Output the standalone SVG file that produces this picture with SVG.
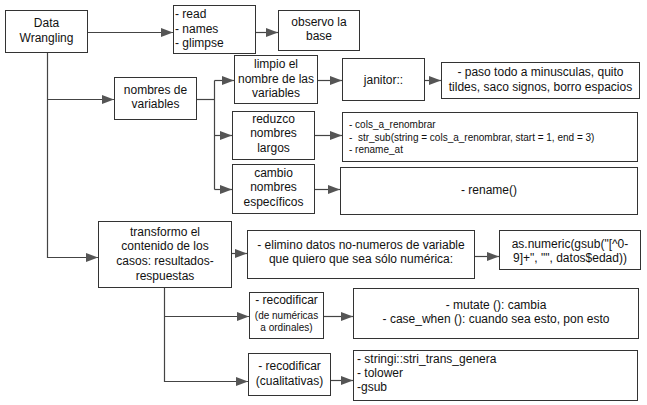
<svg xmlns="http://www.w3.org/2000/svg" width="647" height="405" viewBox="0 0 647 405">
<style>
.b{fill:#fff;stroke:#333;stroke-width:1}
.t{font-family:"Liberation Sans",Arial,sans-serif;font-size:12px;fill:#111}
.c{text-anchor:middle}
.s{font-size:10px}
.k{fill:none;stroke:#444;stroke-width:1.2}
</style>
<defs>
<marker id="a" markerUnits="userSpaceOnUse" markerWidth="12" markerHeight="9" refX="12" refY="4.5" orient="auto">
<path d="M0,0 L12,4.5 L0,9 z" fill="#555"/>
</marker>
</defs>
<rect width="647" height="405" fill="#fff"/>
<g id="connectors">
<path class="k" d="M87,32.5 H173" marker-end="url(#a)"/>
<path class="k" d="M255,32.5 H278" marker-end="url(#a)"/>
<path class="k" d="M47.5,52 V257.5 H98" marker-end="url(#a)"/>
<path class="k" d="M47.5,99.5 H114" marker-end="url(#a)"/>
<path class="k" d="M196,99.5 H214.5"/>
<path class="k" d="M214.5,80.5 V189.5"/>
<path class="k" d="M214.5,80.5 H234" marker-end="url(#a)"/>
<path class="k" d="M214.5,135.5 H232" marker-end="url(#a)"/>
<path class="k" d="M214.5,189.5 H232" marker-end="url(#a)"/>
<path class="k" d="M317,80.5 H342" marker-end="url(#a)"/>
<path class="k" d="M424,80.5 H441" marker-end="url(#a)"/>
<path class="k" d="M314,135.5 H342" marker-end="url(#a)"/>
<path class="k" d="M314,189.5 H340" marker-end="url(#a)"/>
<path class="k" d="M231,253.5 H247" marker-end="url(#a)"/>
<path class="k" d="M474,256.5 H499" marker-end="url(#a)"/>
<path class="k" d="M164.5,287 V381.5 H248" marker-end="url(#a)"/>
<path class="k" d="M164.5,316.5 H249" marker-end="url(#a)"/>
<path class="k" d="M323,316.5 H353" marker-end="url(#a)"/>
<path class="k" d="M330,380.5 H353" marker-end="url(#a)"/>
</g>
<g id="data-wrangling">
<rect class="b" x="5.5" y="10.5" width="82" height="42"/>
<text class="t c" x="46.5" y="27">Data</text>
<text class="t c" x="46.5" y="42">Wrangling</text>
</g>
<g id="read">
<rect class="b" x="173.5" y="5.5" width="82" height="48"/>
<text class="t" x="175" y="18">- read</text>
<text class="t" x="175" y="33">- names</text>
<text class="t" x="175" y="47">- glimpse</text>
</g>
<g id="observo">
<rect class="b" x="278.5" y="10.5" width="81" height="40"/>
<text class="t c" x="319" y="26">observo la</text>
<text class="t c" x="319" y="40">base</text>
</g>
<g id="nombres">
<rect class="b" x="114.5" y="77.5" width="82" height="42"/>
<text class="t c" x="155.5" y="94">nombres de</text>
<text class="t c" x="155.5" y="108">variables</text>
</g>
<g id="limpio">
<rect class="b" x="234.5" y="55.5" width="83" height="48"/>
<text class="t c" x="276" y="68">limpio el</text>
<text class="t c" x="276" y="83">nombre de las</text>
<text class="t c" x="276" y="97">variables</text>
</g>
<g id="janitor">
<rect class="b" x="342.5" y="58.5" width="82" height="42"/>
<text class="t c" x="383.5" y="84">janitor::</text>
</g>
<g id="paso">
<rect class="b" x="441.5" y="62.5" width="198" height="36"/>
<text class="t c" x="540.5" y="76">- paso todo a minusculas, quito</text>
<text class="t c" x="540.5" y="91">tildes, saco signos, borro espacios</text>
</g>
<g id="reduzco">
<rect class="b" x="232.5" y="111.5" width="82" height="48"/>
<text class="t c" x="273.5" y="123">reduzco</text>
<text class="t c" x="273.5" y="137">nombres</text>
<text class="t c" x="273.5" y="152">largos</text>
</g>
<g id="str-sub">
<rect class="b" x="342.5" y="112.5" width="295" height="49"/>
<text class="t s" x="349" y="128">- cols_a_renombrar</text>
<text class="t s" x="349" y="140.5" xml:space="preserve">-  str_sub(string = cols_a_renombrar, start = 1, end = 3)</text>
<text class="t s" x="349" y="153">- rename_at</text>
</g>
<g id="cambio">
<rect class="b" x="232.5" y="164.5" width="82" height="49"/>
<text class="t c" x="273.5" y="177">cambio</text>
<text class="t c" x="273.5" y="191">nombres</text>
<text class="t c" x="273.5" y="206">específicos</text>
</g>
<g id="rename">
<rect class="b" x="340.5" y="167.5" width="297" height="47"/>
<text class="t c" x="489" y="194">- rename()</text>
</g>
<g id="transformo">
<rect class="b" x="98.5" y="221.5" width="133" height="66"/>
<text class="t c" x="165" y="236">transformo el</text>
<text class="t c" x="165" y="250">contenido de los</text>
<text class="t c" x="165" y="265">casos: resultados-</text>
<text class="t c" x="165" y="280">respuestas</text>
</g>
<g id="elimino">
<rect class="b" x="247.5" y="230.5" width="227" height="48"/>
<text class="t c" x="361" y="249">- elimino datos no-numeros de variable</text>
<text class="t c" x="361" y="263">que quiero que sea sólo numérica:</text>
</g>
<g id="as-numeric">
<rect class="b" x="499.5" y="230.5" width="141" height="39"/>
<text class="t c" x="570" y="248">as.numeric(gsub("[^0-</text>
<text class="t c" x="570" y="262">9]+", "", datos$edad))</text>
</g>
<g id="recodificar-1">
<rect class="b" x="249.5" y="292.5" width="74" height="46"/>
<text class="t c" x="286.5" y="304">- recodificar</text>
<text class="t c s" x="286.5" y="319">(de numéricas</text>
<text class="t c s" x="286.5" y="331">a ordinales)</text>
</g>
<g id="mutate">
<rect class="b" x="353.5" y="288.5" width="285" height="50"/>
<text class="t c" x="496" y="309">- mutate (): cambia</text>
<text class="t c" x="496" y="323">- case_when (): cuando sea esto, pon esto</text>
</g>
<g id="recodificar-2">
<rect class="b" x="248.5" y="353.5" width="82" height="42"/>
<text class="t c" x="289.5" y="370">- recodificar</text>
<text class="t c" x="289.5" y="385">(cualitativas)</text>
</g>
<g id="stringi">
<rect class="b" x="353.5" y="350.5" width="284" height="50"/>
<text class="t" x="357" y="363">- stringi::stri_trans_genera</text>
<text class="t" x="357" y="377">- tolower</text>
<text class="t" x="357" y="391">-gsub</text>
</g>
</svg>
